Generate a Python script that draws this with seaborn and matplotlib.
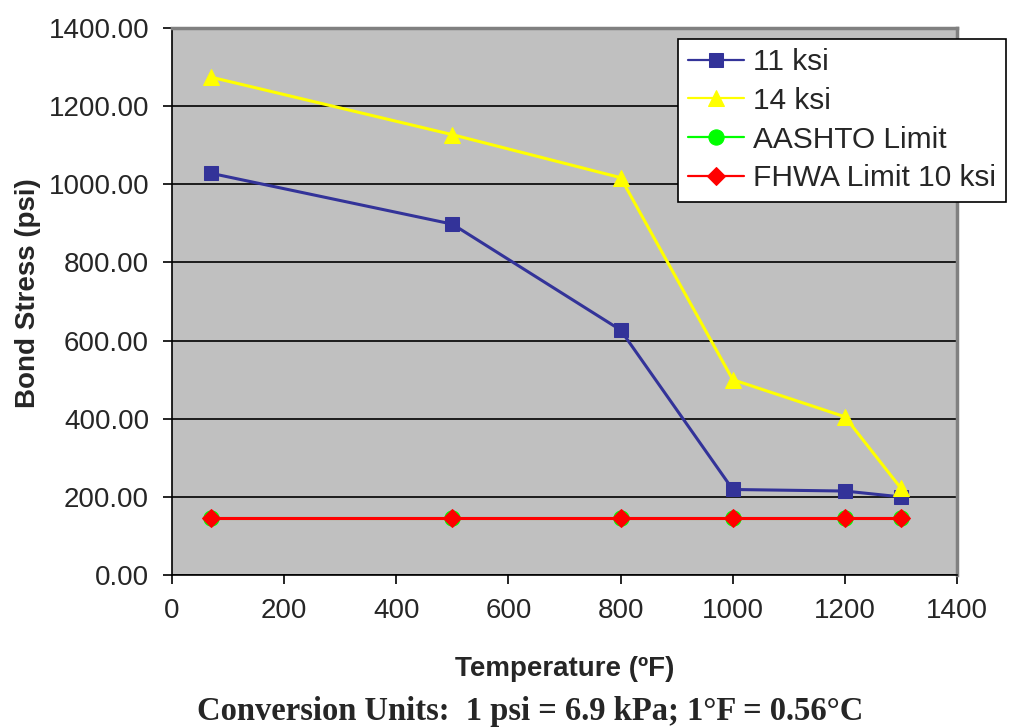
import numpy as np
import matplotlib
matplotlib.use('Agg')
import matplotlib.pyplot as plt
import seaborn as sns
import pandas as pd

temps = [70, 500, 800, 1000, 1200, 1300]
ksi11 = [1028, 898, 627, 219, 215, 200]
ksi14 = [1274, 1127, 1017, 500, 405, 222]
aashto = [146, 146, 146, 146, 146, 146]
fhwa = [146, 146, 146, 146, 146, 146]

series = ['11 ksi', '14 ksi', 'AASHTO Limit', 'FHWA Limit 10 ksi']
values = [ksi11, ksi14, aashto, fhwa]
colors = ['#333399', '#FFFF00', '#00FF00', '#FF0000']
marks = ['s', '^', 'o', 'D']
msizes = [10.5, 12, 11, 9.5]

sns.set_style('white')
plt.rcParams['font.family'] = ['Liberation Sans', 'DejaVu Sans']

fig = plt.figure(figsize=(10.12, 7.27), dpi=100)
ax = fig.add_axes([0.170, 0.209, 0.7757, 0.7525])
ax.set_facecolor('#C0C0C0')

for name, vals, c, m, ms in zip(series, values, colors, marks, msizes):
    df = pd.DataFrame({'Temperature': temps, 'Stress': vals})
    sns.lineplot(data=df, x='Temperature', y='Stress', ax=ax, color=c,
                 marker=m, markersize=ms, markeredgecolor=c, linewidth=2.2,
                 label=name, legend=False)

ax.set(xlim=(0, 1400), ylim=(0, 1400))
ax.set_xticks(np.arange(0, 1401, 200))
ax.set_yticks(np.arange(0, 1401, 200))
ax.set_yticklabels([f'{v:.2f}' for v in np.arange(0, 1401, 200)])
ax.yaxis.grid(True, color='black', linewidth=1.2)
ax.set_axisbelow(True)
ax.tick_params(axis='both', labelsize=20, direction='out', length=6.5, width=1.2,
               color='black', bottom=True, left=True)
ax.tick_params(axis='x', pad=10)
ax.tick_params(axis='y', pad=10)
for s in ['left', 'bottom']:
    ax.spines[s].set_color('black')
    ax.spines[s].set_linewidth(1.2)
for s in ['top', 'right']:
    ax.spines[s].set_color('#808080')
    ax.spines[s].set_linewidth(2.5)

ax.set_xlabel('Temperature (ºF)', fontsize=20, fontweight='bold')
ax.set_ylabel('Bond Stress (psi)', fontsize=20, fontweight='bold')
ax.xaxis.label.set_va('center')
ax.yaxis.label.set_va('center')
ax.xaxis.set_label_coords(0.5, -0.172)
ax.yaxis.set_label_coords(-0.183, 0.515)

handles, labels = ax.get_legend_handles_labels()
leg = fig.legend(handles, labels, loc='upper left', bbox_to_anchor=(0.670, 0.947),
                 fontsize=21.5, frameon=True, fancybox=False, edgecolor='black',
                 handlelength=1.9, handletextpad=0.3, borderpad=0.32,
                 labelspacing=0.36, borderaxespad=0, framealpha=1)
leg.get_frame().set_linewidth(1.2)
for h in leg.legend_handles:
    h.set_linewidth(1.6)

fig.text(0.524, 0.021, 'Conversion Units:  1 psi = 6.9 kPa; 1°F = 0.56°C',
         ha='center', va='center', fontsize=23.5, fontweight='bold',
         family=['Liberation Serif', 'DejaVu Serif'])

plt.savefig('out.png', dpi=100)
